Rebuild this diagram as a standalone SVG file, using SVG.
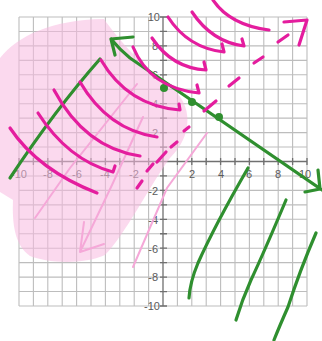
<svg xmlns="http://www.w3.org/2000/svg" width="322" height="341" viewBox="0 0 322 341">
<style>
.grid{stroke:#bdbdbd;stroke-width:1.1;fill:none}
.axis{stroke:#707070;stroke-width:1.3;fill:none}
.lbl{font-family:"Liberation Sans",Arial,sans-serif;font-size:11px;fill:#5a5a5a}
.mag{stroke:#e41d9e;stroke-width:3.2;fill:none;stroke-linecap:round;stroke-linejoin:round}
.grn{stroke:#2f8f2f;stroke-width:3.2;fill:none;stroke-linecap:round;stroke-linejoin:round}
.lp{stroke:#f5a8d8;stroke-width:2;fill:none;stroke-linecap:round}
</style>
<rect width="322" height="341" fill="#ffffff"/>
<g id="grid">
<path class="grid" d="M19,17V306M33.4,17V306M47.8,17V306M62.2,17V306M76.6,17V306M91,17V306M105.4,17V306M119.8,17V306M134.2,17V306M148.6,17V306M177.4,17V306M191.8,17V306M206.2,17V306M220.6,17V306M235,17V306M249.4,17V306M263.8,17V306M278.2,17V306M292.6,17V306M307,17V306"/>
<path class="grid" d="M19,17H307M19,31.45H307M19,45.9H307M19,60.35H307M19,74.8H307M19,89.25H307M19,103.7H307M19,118.15H307M19,132.6H307M19,147.05H307M19,175.95H307M19,190.4H307M19,204.85H307M19,219.3H307M19,233.75H307M19,248.2H307M19,262.65H307M19,277.1H307M19,291.55H307M19,306H307"/>
<path class="axis" d="M163,17V306M19,161.5H307"/>
<path class="axis" d="M19,158V165M33.4,158V165M47.8,158V165M62.2,158V165M76.6,158V165M91,158V165M105.4,158V165M119.8,158V165M134.2,158V165M148.6,158V165M177.4,158V165M191.8,158V165M206.2,158V165M220.6,158V165M235,158V165M249.4,158V165M263.8,158V165M278.2,158V165M292.6,158V165M307,158V165"/>
<path class="axis" d="M160,17H167M160,31.45H167M160,45.9H167M160,60.35H167M160,74.8H167M160,89.25H167M160,103.7H167M160,118.15H167M160,132.6H167M160,147.05H167M160,175.95H167M160,190.4H167M160,204.85H167M160,219.3H167M160,233.75H167M160,248.2H167M160,262.65H167M160,277.1H167M160,291.55H167M160,306H167"/>
</g>
<g id="labels" class="lbl">
<text x="160" y="21" text-anchor="end">10</text>
<text x="158" y="50" text-anchor="end">8</text>
<text x="158" y="79" text-anchor="end">6</text>
<text x="158" y="108" text-anchor="end">4</text>
<text x="158" y="137" text-anchor="end">2</text>
<text x="158" y="195" text-anchor="end">-2</text>
<text x="158" y="224" text-anchor="end">-4</text>
<text x="158" y="253" text-anchor="end">-6</text>
<text x="158" y="281" text-anchor="end">-8</text>
<text x="160" y="310" text-anchor="end">-10</text>
<text x="19" y="178" text-anchor="middle">-10</text>
<text x="48" y="178" text-anchor="middle">-8</text>
<text x="77" y="178" text-anchor="middle">-6</text>
<text x="105" y="178" text-anchor="middle">-4</text>
<text x="134" y="178" text-anchor="middle">-2</text>
<text x="192" y="178" text-anchor="middle">2</text>
<text x="221" y="178" text-anchor="middle">4</text>
<text x="249" y="178" text-anchor="middle">6</text>
<text x="278" y="178" text-anchor="middle">8</text>
<text x="305" y="178" text-anchor="middle">10</text>
</g>
<g id="shading">
<path d="M0,58 C18,36 50,20 104,19 C115,35 140,65 172,88 C192,104 194,135 170,158 C150,185 125,235 105,255 C80,266 45,262 30,256 C15,245 12,225 13,200 L0,192 Z" fill="#f7b9e0" opacity="0.55"/>
<path class="lp" d="M35,218 L70,168 L137,84"/>
<path class="lp" d="M80,252 L112,185 L143,117 M80,252 L84,222 M80,252 L104,244"/>
<path class="lp" d="M133,267 L167,188 L207,133"/>
</g>
<g id="connectors">
<g id="line-left">
<path class="grn" d="M100,59 Q55,110 10,178"/>
</g>
<g id="line-right">
<path class="grn" d="M111,39 Q120,50 130,58 L322,190 M111,39 L133,37 M111,39 L115,55 M320,189 L305,192 M320,189 L318,170"/>
<circle cx="164" cy="88" r="4" fill="#2f8f2f"/>
<circle cx="192" cy="102" r="4" fill="#2f8f2f"/>
<circle cx="219" cy="117" r="4" fill="#2f8f2f"/>
</g>
<g id="dashed">
<path class="mag" d="M137,188 L142,181 M171,147 L177,142 M204,111 L216,101 M229,86 L239,78 M254,63 L263,57 M278,42 L288,35 M284,22 L307,20 L299,45"/>
<path class="mag" stroke-width="5" d="M147,171 L153,164 M184,131 L189,127"/>
<path class="mag" stroke-width="7" d="M157,162 L166,152"/>
</g>
<g id="hatch-left">
<path class="mag" d="M10,128 Q38,170 97,193"/>
<path class="mag" d="M38,113 Q68,160 113,172 l2,-6"/>
<path class="mag" d="M54,90 Q85,148 140,156"/>
<path class="mag" d="M80,82 Q108,130 157,137"/>
<path class="mag" d="M101,60 Q128,106 180,110 l-1,-6"/>
</g>
<g id="hatch-top">
<path class="mag" d="M213,0 Q230,25 269,30"/>
<path class="mag" d="M192,12 Q212,42 244,46 l-2,-7"/>
<path class="mag" d="M168,17 Q188,48 224,52 l-2,-8"/>
<path class="mag" d="M152,38 Q172,68 206,70 l-2,-8"/>
<path class="mag" d="M133,47 Q150,88 199,93 l-2,-8"/>
</g>
<g id="hatch-bottom">
<path class="grn" d="M248,168 Q215,225 198,263 Q190,282 189,298"/>
<path class="grn" d="M286,200 Q265,250 251,280 Q242,300 236,320"/>
<path class="grn" d="M316,233 Q300,270 288,307 Q280,325 274,340"/>
</g>
</g>
</svg>
